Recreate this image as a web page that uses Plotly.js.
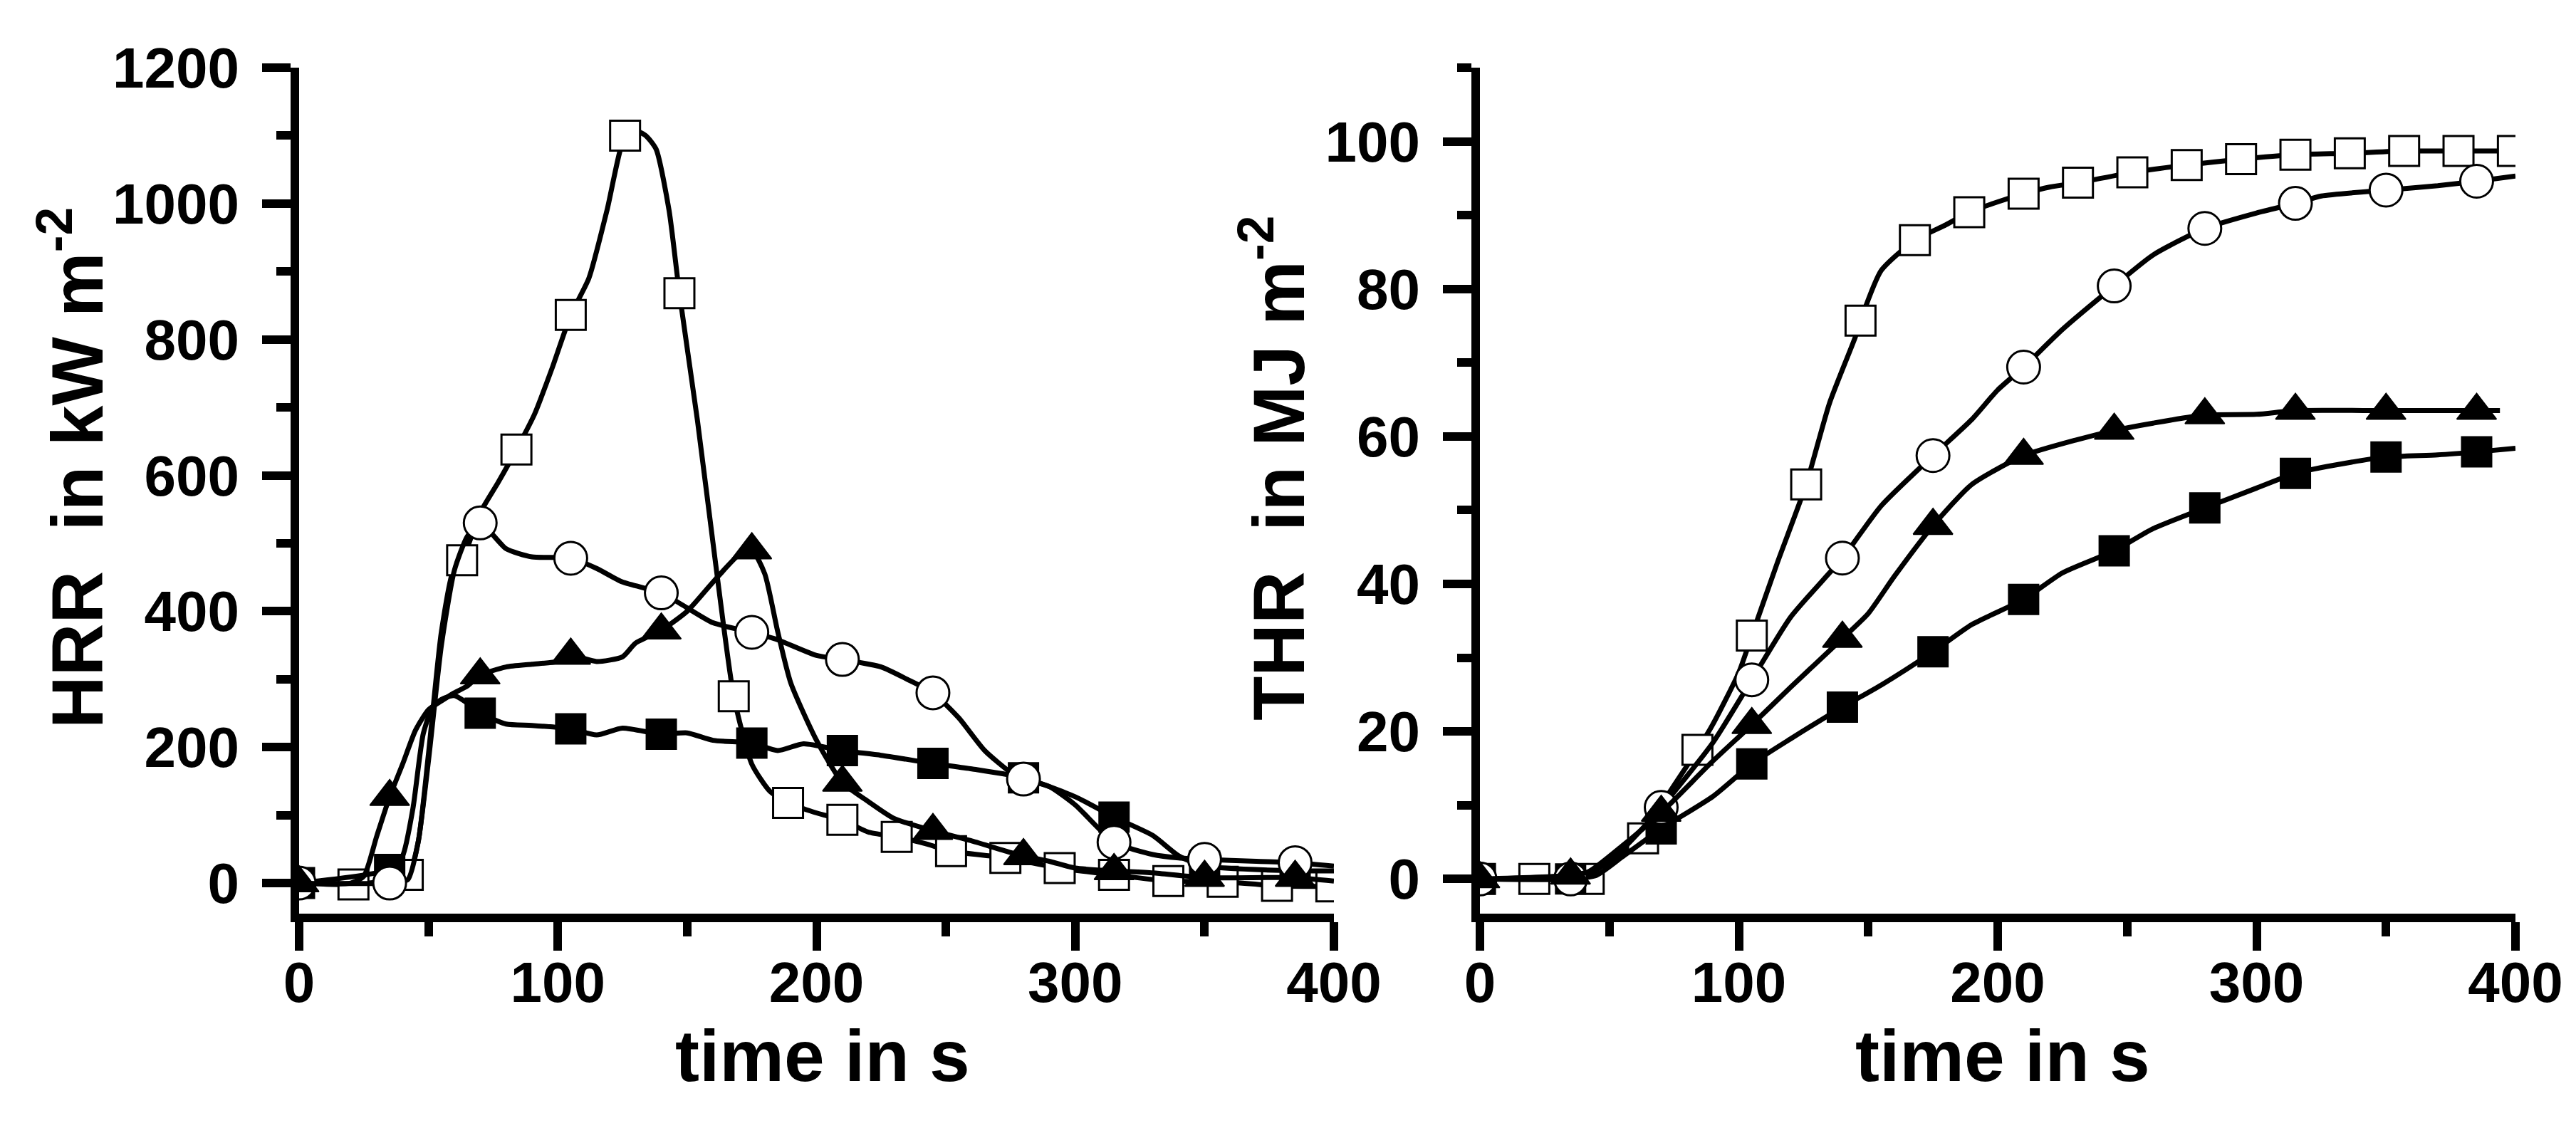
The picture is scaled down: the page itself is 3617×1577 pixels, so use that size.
<!DOCTYPE html>
<html>
<head>
<meta charset="utf-8">
<script src="https://cdn.plot.ly/plotly-3.0.1.min.js"></script>
<style>
  html, body { margin: 0; padding: 0; background: white; }
  #chart { width: 3617px; height: 1577px; }
</style>
</head>
<body>
<div id="chart"></div>
<script>
// marker positions (s)
var markTimes21 = [0, 21, 42, 63, 84, 105, 126, 147, 168, 189, 210, 231, 252, 273, 294, 315, 336, 357, 378, 399]
var markTimes35 = [0, 35, 70, 105, 140, 175, 210, 245, 280, 315, 350, 385]

// HRR in kW m-2, left panel
var hrrOpenSqT = [0, 21, 42, 46, 50, 55, 60, 63, 70, 77, 84, 91, 98, 105, 112, 119, 126, 130, 134, 138,
    143, 147, 154, 161, 168, 175, 182, 189, 196, 203, 210, 220, 231, 242, 252, 273, 294, 315, 336, 357, 378, 399]
var hrrOpenSqV = [0, -2, 12, 60, 190, 370, 465, 475, 545, 590, 638, 690, 760, 836, 890, 990, 1100, 1107, 1100, 1080,
    990, 868, 680, 470, 275, 175, 135, 118, 108, 100, 93, 75, 68, 58, 47, 37, 22, 12, 3, 2, -4, -5]

var hrrFillSqT = [0, 35, 40, 44, 48, 52, 56, 60, 65, 70, 80, 90, 105, 115, 125, 140, 150, 160, 175, 185,
    195, 210, 225, 245, 260, 280, 300, 315, 330, 340, 350, 385, 400]
var hrrFillSqV = [0, 20, 40, 110, 220, 262, 272, 276, 265, 250, 234, 232, 227, 218, 228, 219, 221, 210, 206, 195,
    205, 195, 188, 176, 168, 155, 127, 97, 70, 40, 25, 18, 18]

var hrrCircleT = [0, 35, 42, 46, 50, 55, 60, 65, 70, 80, 90, 105, 115, 125, 140, 150, 160, 175, 185, 200,
    210, 225, 235, 245, 255, 265, 275, 280, 290, 300, 315, 330, 340, 350, 370, 385, 400]
var hrrCircleV = [0, 0, 5, 60, 180, 350, 460, 510, 530, 492, 480, 478, 463, 443, 427, 405, 383, 369, 358, 335,
    329, 318, 300, 280, 243, 195, 163, 153, 142, 115, 60, 42, 37, 35, 32, 30, 25]

var hrrTriT = [0, 20, 25, 30, 35, 40, 45, 50, 55, 60, 65, 70, 80, 90, 100, 105, 115, 125, 130, 140,
    150, 160, 170, 175, 180, 185, 190, 200, 210, 220, 230, 245, 260, 275, 280, 290, 300, 315, 330, 350, 385, 400]
var hrrTriV = [0, 0, 10, 69, 127, 175, 225, 255, 268, 280, 290, 306, 318, 322, 326, 335, 326, 333, 353, 372,
    400, 443, 483, 490, 455, 370, 295, 210, 148, 120, 95, 77, 62, 45, 40, 32, 22, 18, 15, 8, 8, 3]

// THR in MJ m-2, right panel
var thrOpenSqT = [0, 21, 42, 50, 55, 63, 70, 84, 90, 100, 105, 115, 126, 135, 145, 147, 155, 168, 180, 189,
    200, 210, 220, 231, 252, 273, 294, 315, 336, 357, 378, 399, 400]
var thrOpenSqV = [0, 0, 0, 2, 3.5, 5.5, 10, 17.5, 21, 28, 33, 43, 53.5, 64.5, 73.5, 75.7, 82.5, 86.6, 88.7, 90.4,
    91.8, 92.9, 93.8, 94.4, 95.8, 96.8, 97.6, 98.2, 98.4, 98.7, 98.7, 98.7, 98.7]

var thrFillSqT = [0, 35, 45, 55, 70, 90, 105, 120, 140, 155, 175, 190, 210, 225, 245, 260, 280, 300, 315, 330,
    350, 370, 385, 400]
var thrFillSqV = [0, 0, 0.5, 3, 6.8, 11.2, 15.6, 19, 23.3, 26.3, 30.8, 34.5, 37.9, 41.5, 44.5, 47.5, 50.3, 53, 55, 56.1,
    57.2, 57.5, 57.9, 58.4]

var thrCircleT = [0, 35, 42, 55, 70, 90, 105, 120, 140, 155, 175, 190, 200, 210, 225, 245, 260, 280, 300, 315,
    325, 350, 370, 385, 400]
var thrCircleV = [0, 0, 0.5, 4, 9.7, 18.5, 27, 35.5, 43.5, 50.6, 57.4, 62.3, 66.3, 69.4, 74.5, 80.4, 84.6, 88.2, 90.3, 91.6,
    92.6, 93.4, 94, 94.6, 95.3]

var thrTriT = [0, 35, 42, 55, 70, 90, 105, 120, 140, 150, 160, 175, 190, 210, 230, 245, 260, 280, 300, 315,
    350, 385, 394]
var thrTriV = [0, 0.5, 1, 4.5, 9, 16, 20.9, 26, 32.6, 36, 41, 47.9, 53.5, 57.4, 59.5, 60.8, 61.8, 62.9, 63, 63.5,
    63.5, 63.5, 63.5]

var openSq = { symbol: 'square', size: 42, color: 'white', line: { color: 'black', width: 3 } }
var fillSq = { symbol: 'square', size: 42, color: 'black', line: { color: 'black', width: 2 } }
var openCircle = { symbol: 'circle', size: 46, color: 'white', line: { color: 'black', width: 3 } }
var fillTri = { symbol: 'triangle-up', size: 48, color: 'black', line: { color: 'black', width: 2 } }

function series(t, v, marks, marker, xa, ya) {
    var line = {
        x: t, y: v, xaxis: xa, yaxis: ya,
        mode: 'lines', type: 'scatter', hoverinfo: 'skip',
        line: { color: 'black', width: 7, shape: 'spline', smoothing: 0.6 }
    }
    // markers sit on the read curve at the marker times
    var my = marks.map(function (m) { return v[t.indexOf(m)] })
    var pts = {
        x: marks, y: my, xaxis: xa, yaxis: ya,
        mode: 'markers', type: 'scatter', marker: marker
    }
    return [line, pts]
}

var traces = [].concat(
    series(hrrOpenSqT, hrrOpenSqV, markTimes21, openSq, 'x', 'y'),
    series(hrrFillSqT, hrrFillSqV, markTimes35, fillSq, 'x', 'y'),
    series(hrrCircleT, hrrCircleV, markTimes35, openCircle, 'x', 'y'),
    series(hrrTriT, hrrTriV, markTimes35, fillTri, 'x', 'y'),
    series(thrOpenSqT, thrOpenSqV, markTimes21, openSq, 'x2', 'y2'),
    series(thrFillSqT, thrFillSqV, markTimes35, fillSq, 'x2', 'y2'),
    series(thrCircleT, thrCircleV, markTimes35, openCircle, 'x2', 'y2'),
    series(thrTriT, thrTriV, markTimes35, fillTri, 'x2', 'y2')
)

var fontFam = 'Liberation Sans, Arial, Helvetica, sans-serif'
var tickFont = { family: fontFam, size: 80, color: 'black', weight: 'bold' }
var titleFont = { family: fontFam, size: 102, color: 'black', weight: 'bold' }

function axis(extra, minorStep) {
    var a = {
        showline: true, linecolor: 'black', linewidth: 12,
        ticks: 'outside', ticklen: 40, tickwidth: 12, tickcolor: 'black',
        ticklabelstandoff: 16,
        minor: { ticks: 'outside', ticklen: 20, tickwidth: 12, tickcolor: 'black', dtick: minorStep, showgrid: false },
        showgrid: false, zeroline: false, tick0: 0,
        tickfont: tickFont, fixedrange: true
    }
    for (var k in extra) a[k] = extra[k]
    return a
}

// axis titles as annotations so they sit where the reference has them
function title(text, x, y, angle) {
    return {
        text: text, xref: 'paper', yref: 'paper', x: x, y: y,
        xanchor: 'center', yanchor: 'middle', textangle: angle,
        showarrow: false, font: titleFont
    }
}

var layout = {
    width: 3617, height: 1577,
    margin: { l: 420, r: 85, t: 95, b: 294 },
    paper_bgcolor: 'white', plot_bgcolor: 'white',
    showlegend: false,
    xaxis: axis({ domain: [0, 0.4669], range: [0, 400], dtick: 100, anchor: 'y', ticklabelstandoff: -24 }, 50),
    yaxis: axis({ domain: [0, 1], range: [-45, 1200], dtick: 200, anchor: 'x' }, 100),
    xaxis2: axis({ domain: [0.5328, 1], range: [0, 400], dtick: 100, anchor: 'y2', ticklabelstandoff: -24 }, 50),
    yaxis2: axis({ domain: [0, 1], range: [-4.7, 110], dtick: 20, anchor: 'x2' }, 10),
    annotations: [
        title('time in s', 0.2362, -0.168, 0),
        title('time in s', 0.7686, -0.168, 0),
        title('HRR&nbsp; in kW m<sup>-2</sup>', -0.1025, 0.527, -90),
        title('THR&nbsp; in MJ m<sup>-2</sup>', 0.4396, 0.527, -90)
    ]
}

Plotly.newPlot('chart', traces, layout, { staticPlot: true })
</script>
</body>
</html>
